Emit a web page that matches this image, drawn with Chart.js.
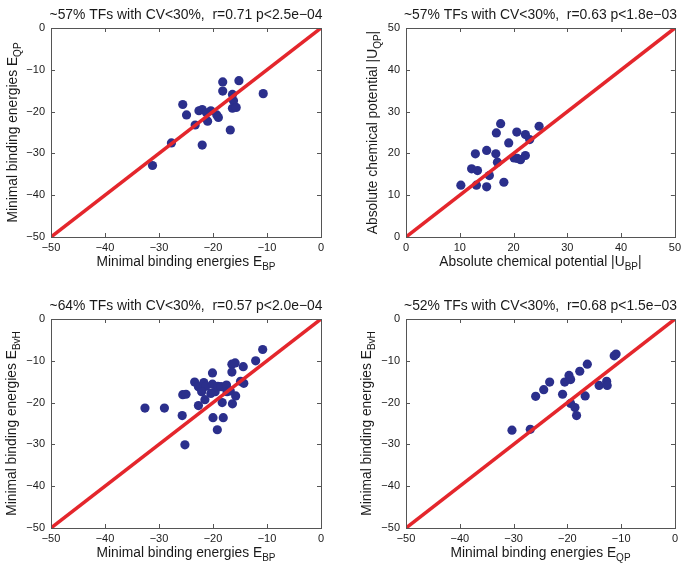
<!DOCTYPE html>
<html>
<head>
<meta charset="utf-8">
<script src="https://cdn.jsdelivr.net/npm/chart.js@4.4.1/dist/chart.umd.min.js"></script>
<style>
  html, body { margin: 0; padding: 0; background: #ffffff; }
  #wrap { position: relative; width: 685px; height: 567px; }
  canvas { position: absolute; }
</style>
</head>
<body>
<div id="wrap">
  <canvas id="c1" width="342" height="283" style="left:0px;top:0px"></canvas>
  <canvas id="c2" width="343" height="283" style="left:342px;top:0px"></canvas>
  <canvas id="c3" width="342" height="284" style="left:0px;top:283px"></canvas>
  <canvas id="c4" width="343" height="284" style="left:342px;top:283px"></canvas>
</div>
<script>
// ---------------- DATA ----------------
// Panel 1: E_BP (x) vs E_QP (y)
const p1X = [-31.2, -27.7, -25.6, -24.9, -23.3, -22.6, -22.0, -22.0, -21.2, -20.4, -21.0, -19.3, -19.0, -18.2, -18.2, -15.2, -16.4, -16.2, -16.4, -15.7, -16.8, -10.7];
const p1Y = [-32.9, -27.5, -18.3, -20.8, -23.2, -19.8, -19.5, -28.0, -20.3, -19.8, -22.3, -20.8, -21.4, -12.9, -15.1, -12.6, -15.9, -17.4, -19.2, -19.0, -24.4, -15.7];

// Panel 2: |U_BP| (x) vs |U_QP| (y)
const p2X = [10.2, 12.2, 12.9, 13.1, 13.3, 15.0, 15.0, 15.5, 16.8, 16.7, 17.0, 17.6, 18.2, 19.1, 20.1, 20.6, 20.7, 21.3, 22.2, 22.2, 23.0, 24.75];
const p2Y = [12.4, 16.3, 19.9, 12.4, 15.9, 20.7, 12.0, 14.7, 24.9, 19.9, 17.9, 27.1, 13.1, 22.5, 18.9, 25.1, 18.8, 18.5, 24.5, 19.5, 23.3, 26.5];

// Panel 3: E_BP (x) vs E_BvH (y)
const p3X = [-32.6, -29.0, -25.7, -25.6, -25.0, -25.2, -23.4, -22.7, -21.7, -21.3, -22.1, -22.7, -21.5, -20.1, -20.1, -19.6, -19.1, -18.5, -20.0, -19.2, -18.1, -18.3, -17.5, -17.4, -16.8, -16.5, -15.9, -16.5, -16.4, -15.8, -14.4, -14.9, -14.3, -12.1, -10.8, -20.4];
const p3Y = [-21.3, -21.3, -23.1, -18.1, -18.0, -30.1, -15.1, -16.2, -15.2, -16.1, -17.4, -20.7, -19.3, -12.9, -15.6, -17.4, -16.1, -16.2, -23.6, -26.5, -23.6, -20.0, -15.8, -17.4, -17.2, -10.8, -10.5, -12.7, -20.3, -18.4, -11.4, -14.9, -15.4, -10.0, -7.3, -17.8];

// Panel 4: E_QP (x) vs E_BvH (y)
const p4X = [-30.3, -26.9, -25.9, -24.4, -23.3, -20.9, -20.5, -19.7, -19.4, -19.4, -18.6, -18.3, -17.7, -16.7, -16.3, -14.1, -12.7, -12.6, -11.3, -10.95];
const p4Y = [-26.6, -26.4, -18.5, -16.9, -15.1, -18.0, -15.1, -13.5, -14.5, -20.2, -21.2, -23.1, -12.5, -18.4, -10.8, -15.9, -14.9, -15.9, -8.8, -8.4];

// Identity line endpoints and tick labels
const diagNeg = [-50, 0];
const diagPos = [0, 50];
const ticksNeg = [-50, -40, -30, -20, -10, 0];
const ticksPos = [0, 10, 20, 30, 40, 50];

const titles = [
  '~57% TFs with CV<30%,  r=0.71 p<2.5e\u221204',
  '~57% TFs with CV<30%,  r=0.63 p<1.8e\u221203',
  '~64% TFs with CV<30%,  r=0.57 p<2.0e\u221204',
  '~52% TFs with CV<30%,  r=0.68 p<1.5e\u221203'
];
const xLabels = [
  ['Minimal binding energies E', 'BP', ''],
  ['Absolute chemical potential |U', 'BP', '|'],
  ['Minimal binding energies E', 'BP', ''],
  ['Minimal binding energies E', 'QP', '']
];
const yLabels = [
  ['Minimal binding energies E', 'QP', ''],
  ['Absolute chemical potential |U', 'QP', '|'],
  ['Minimal binding energies E', 'BvH', ''],
  ['Minimal binding energies E', 'BvH', '']
];

// ---------------- STYLE / LAYOUT ----------------
const FONT = '"Liberation Sans", Arial, Helvetica, sans-serif';
const DOT = '#2b2f8c';
const RED = '#e4262c';
const FRAME = '#555555';
const TXT = '#1a1a1a';

function fmt(v) { return (v < 0 ? '\u2212' : '') + Math.abs(v); }

const labelPlugin = {
  id: 'labels',
  afterDraw(chart, args, o) {
    const ctx = chart.ctx;
    const a = chart.chartArea;
    const xs = chart.scales.x, ys = chart.scales.y;
    ctx.save();
    // frame
    ctx.strokeStyle = FRAME;
    ctx.lineWidth = 1;
    ctx.strokeRect(Math.round(a.left) + 0.5, Math.round(a.top) + 0.5, Math.round(a.right - a.left), Math.round(a.bottom - a.top));
    // inward tick marks
    const tl = 4;
    xs.ticks.forEach(t => {
      const px = Math.round(xs.getPixelForValue(t.value)) + 0.5;
      ctx.beginPath();
      ctx.moveTo(px, a.bottom); ctx.lineTo(px, a.bottom - tl);
      ctx.moveTo(px, a.top); ctx.lineTo(px, a.top + tl);
      ctx.stroke();
    });
    ys.ticks.forEach(t => {
      const py = Math.round(ys.getPixelForValue(t.value)) + 0.5;
      ctx.beginPath();
      ctx.moveTo(a.left, py); ctx.lineTo(a.left + tl, py);
      ctx.moveTo(a.right, py); ctx.lineTo(a.right - tl, py);
      ctx.stroke();
    });
    ctx.fillStyle = TXT;
    const cx = (a.left + a.right) / 2;
    const cy = (a.top + a.bottom) / 2;
    // title
    ctx.font = '13.9px ' + FONT;
    ctx.textAlign = 'center';
    ctx.textBaseline = 'alphabetic';
    ctx.fillText(o.title, cx, a.top - 9);
    // axis labels with subscript
    const big = '13.8px ' + FONT, small = '10px ' + FONT;
    function drawSub(parts, x0, y0) {
      ctx.textAlign = 'left';
      ctx.font = big; const w1 = ctx.measureText(parts[0]).width;
      ctx.font = small; const w2 = ctx.measureText(parts[1]).width;
      ctx.font = big; const w3 = ctx.measureText(parts[2]).width;
      const tot = w1 + w2 + w3;
      let x = x0 - tot / 2;
      ctx.font = big; ctx.fillText(parts[0], x, y0); x += w1;
      ctx.font = small; ctx.fillText(parts[1], x, y0 + 4); x += w2;
      ctx.font = big; ctx.fillText(parts[2], x, y0);
    }
    drawSub(o.xl, cx, a.bottom + 28.5);
    ctx.save();
    ctx.translate(o.ylx, cy);
    ctx.rotate(-Math.PI / 2);
    drawSub(o.yl, 0, 0);
    ctx.restore();
    ctx.restore();
  }
};

const panels = [
  { id: 'c1', x: p1X, y: p1Y, d: diagNeg, t: ticksNeg, pad: { left: 0, right: 21, top: 28, bottom: 26 }, yw: 51, ylx: 16.5 },
  { id: 'c2', x: p2X, y: p2Y, d: diagPos, t: ticksPos, pad: { left: 0, right: 10, top: 28, bottom: 26 }, yw: 64, ylx: 34.5 },
  { id: 'c3', x: p3X, y: p3Y, d: diagNeg, t: ticksNeg, pad: { left: 0, right: 21, top: 36, bottom: 19 }, yw: 51, ylx: 15.5 },
  { id: 'c4', x: p4X, y: p4Y, d: diagNeg, t: ticksNeg, pad: { left: 0, right: 10, top: 36, bottom: 19 }, yw: 64, ylx: 29 }
];

panels.forEach((p, i) => {
  const pts = p.x.map((v, k) => ({ x: v, y: p.y[k] }));
  const diag = p.d.map(v => ({ x: v, y: v }));
  const tickOpts = {
    color: TXT,
    font: { family: FONT, size: 11 },
    autoSkip: false,
    maxRotation: 0,
    callback: (v) => fmt(v)
  };
  new Chart(document.getElementById(p.id), {
    type: 'scatter',
    data: {
      datasets: [
        { type: 'line', data: diag, borderColor: RED, borderWidth: 3.5, pointRadius: 0, fill: false, order: 0 },
        { data: pts, backgroundColor: DOT, borderColor: DOT, borderWidth: 0, pointRadius: 4.6, pointHoverRadius: 4.6, order: 1 }
      ]
    },
    options: {
      responsive: false,
      animation: false,
      events: [],
      layout: { padding: p.pad },
      plugins: {
        legend: { display: false },
        tooltip: { enabled: false },
        labels: { title: titles[i], xl: xLabels[i], yl: yLabels[i], ylx: p.ylx }
      },
      scales: {
        x: {
          type: 'linear', min: p.t[0], max: p.t[p.t.length - 1],
          afterBuildTicks: (s) => { s.ticks = p.t.map(v => ({ value: v })); },
          ticks: Object.assign({ padding: 4 }, tickOpts),
          grid: { display: false, drawTicks: false },
          border: { display: false },
          afterFit: (s) => { s.height = 20; }
        },
        y: {
          type: 'linear', min: p.t[0], max: p.t[p.t.length - 1],
          afterBuildTicks: (s) => { s.ticks = p.t.map(v => ({ value: v })); },
          ticks: Object.assign({ padding: 6 }, tickOpts),
          grid: { display: false, drawTicks: false },
          border: { display: false },
          afterFit: (s) => { s.width = p.yw; }
        }
      }
    },
    plugins: [labelPlugin]
  });
});
</script>
</body>
</html>
